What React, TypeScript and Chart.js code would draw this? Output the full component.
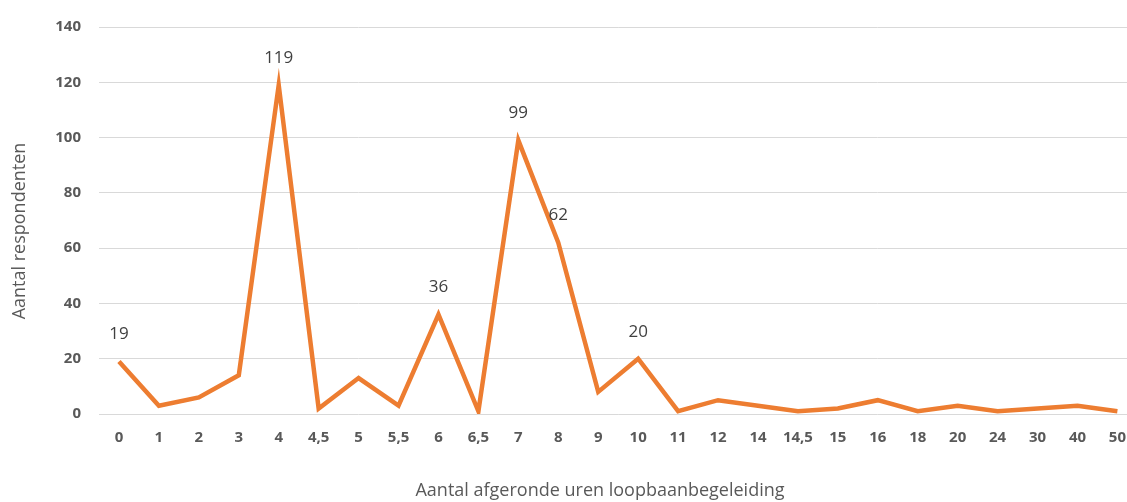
import React, { useEffect, useRef } from "react";
import { Chart, registerables } from "chart.js";

Chart.register(...registerables);

const categories: string[] = [
  "0", "1", "2", "3", "4", "4,5", "5", "5,5", "6", "6,5", "7", "8", "9", "10",
  "11", "12", "14", "14,5", "15", "16", "18", "20", "24", "30", "40", "50",
];

const respondents: number[] = [
  19, 3, 6, 14, 119, 2, 13, 3, 36, 1, 99, 62, 8, 20, 1, 5, 3, 1, 2, 5, 1, 3, 1, 2, 3, 1,
];

// categories whose value is written above the line
const labelledCategories: string[] = ["0", "4", "6", "7", "8", "10"];

const yTicks: number[] = [0, 20, 40, 60, 80, 100, 120, 140];

const xTitle = "Aantal afgeronde uren loopbaanbegeleiding";
const yTitle = "Aantal respondenten";

const FONT = "'Open Sans', 'Liberation Sans', sans-serif";

const valueLabels = {
  id: "valueLabels",
  afterDatasetsDraw(chart: any) {
    const { ctx } = chart;
    const meta = chart.getDatasetMeta(0);
    ctx.save();
    ctx.font = `17px ${FONT}`;
    ctx.fillStyle = "#404040";
    ctx.textAlign = "center";
    ctx.textBaseline = "middle";
    meta.data.forEach((pt: any, i: number) => {
      if (!labelledCategories.includes(categories[i])) return;
      ctx.fillText(String(respondents[i]), pt.x, pt.y - 27);
    });
    ctx.restore();
  },
};

// axis titles, drawn at fixed spots around the plot
const axisTitles = {
  id: "axisTitles",
  afterDraw(chart: any) {
    const { ctx } = chart;
    ctx.save();
    ctx.font = `18px ${FONT}`;
    ctx.fillStyle = "#595959";
    ctx.textAlign = "center";
    ctx.textBaseline = "middle";
    ctx.fillText(xTitle, 600, 491);
    ctx.translate(20, 231);
    ctx.rotate(-Math.PI / 2);
    ctx.fillText(yTitle, 0, 0);
    ctx.restore();
  },
};

export default function App() {
  const ref = useRef<HTMLCanvasElement | null>(null);

  useEffect(() => {
    if (!ref.current) return;
    const chart = new Chart(ref.current, {
      type: "line",
      data: {
        labels: categories,
        datasets: [
          {
            data: respondents,
            borderColor: "#ED7D31",
            borderWidth: 4.5,
            pointRadius: 0,
            tension: 0,
            fill: false,
          },
        ],
      },
      options: {
        responsive: false,
        animation: false,
        layout: { padding: { top: 26, right: 1, left: 0, bottom: 0 } },
        plugins: {
          legend: { display: false },
          tooltip: { enabled: false },
        },
        scales: {
          x: {
            offset: true,
            grid: { display: false, drawTicks: false },
            border: { display: false },
            ticks: {
              color: "#595959",
              font: { family: FONT, size: 15, weight: "bold" },
              padding: 15,
              maxRotation: 0,
              autoSkip: false,
            },
            afterFit: (scale: any) => {
              scale.height = 88;
            },
          },
          y: {
            min: 0,
            max: 140,
            afterBuildTicks: (scale: any) => {
              scale.ticks = yTicks.map((v) => ({ value: v }));
            },
            grid: { color: "#d9d9d9", lineWidth: 1, drawTicks: false },
            border: { display: false },
            ticks: {
              color: "#595959",
              font: { family: FONT, size: 15, weight: "bold" },
              padding: 18,
            },
            afterFit: (scale: any) => {
              scale.width = 99;
            },
          },
        },
      },
      plugins: [valueLabels, axisTitles],
    });
    return () => chart.destroy();
  }, []);

  return (
    <div
      style={{
        position: "absolute",
        left: 0,
        top: 0,
        width: 1127,
        height: 502,
        overflow: "hidden",
        background: "#ffffff",
      }}
    >
      <canvas ref={ref} width={1141} height={502} />
    </div>
  );
}
